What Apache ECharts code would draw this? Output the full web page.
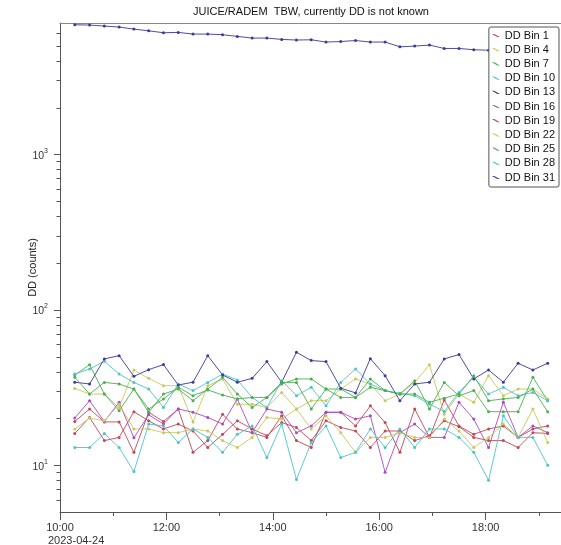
<!DOCTYPE html>
<html>
<head>
<meta charset="utf-8">
<script src="https://cdn.jsdelivr.net/npm/echarts@6/dist/echarts.min.js"></script>
<style>
html,body{margin:0;padding:0;background:#fff;}
#chart{width:561px;height:545px;}
</style>
</head>
<body>
<div id="chart"></div>
<script>
// ---- data ----
const times = ['10:16:40','10:33:20','10:50:00','11:06:40','11:23:20','11:40:00','11:56:40','12:13:20','12:30:00','12:46:40',
  '13:03:20','13:20:00','13:36:40','13:53:20','14:10:00','14:26:40','14:43:20','15:00:00','15:16:40','15:33:20',
  '15:50:00','16:06:40','16:23:20','16:40:00','16:56:40','17:13:20','17:30:00','17:46:40','18:03:20','18:20:00',
  '18:36:40','18:53:20','19:10:00'];
const bin1  = [19.1,23.0,19.0,19.0,12.1,21.9,19.1,23.0,12.1,14.4,21.3,17.1,16.2,15.1,20.8,14.4,13.0,21.9,21.9,17.9,24.1,18.8,12.1,23.0,15.1,26.3,17.9,15.8,17.1,17.9,15.1,17.1,17.9];
const bin4  = [31.2,28.7,28.7,23.5,41.0,36.2,32.5,32.5,19.0,32.5,35.9,24.7,24.7,23.5,29.4,23.0,26.0,26.0,30.9,35.9,33.3,26.0,28.7,34.1,44.3,21.3,28.7,25.4,37.7,28.0,30.9,30.9,26.7];
const bin7  = [38.0,44.3,28.7,22.4,30.9,21.9,28.7,30.9,26.0,30.9,36.8,28.7,23.5,27.3,33.3,35.9,35.9,30.9,30.9,27.3,35.9,30.2,28.7,35.0,23.0,34.1,28.0,30.2,22.1,22.1,22.1,36.8,26.0];
const bin10 = [38.6,41.6,46.6,38.6,34.1,30.9,23.5,33.3,30.2,34.1,38.6,35.4,27.3,23.5,35.0,28.0,31.7,24.1,34.1,41.6,33.3,30.2,29.0,28.0,24.7,22.2,29.4,36.8,28.7,31.7,28.0,29.4,26.0];
const bin13 = [34.2,33.3,48.3,50.7,37.3,41.2,44.4,32.8,34.2,50.7,38.1,34.2,36.2,46.4,34.2,53.3,47.1,46.4,31.3,29.2,48.5,37.7,26.0,33.3,34.2,48.3,51.5,35.9,41.0,34.2,45.3,41.0,45.3];
const bin16 = [20.1,26.0,19.1,25.4,15.0,21.1,18.4,23.0,21.9,20.3,18.4,26.7,16.2,23.0,21.9,16.2,17.9,21.9,21.9,19.8,20.8,9.0,16.2,18.4,15.1,15.1,25.4,19.8,13.0,25.4,15.1,17.9,16.2];
const bin19 = [16.0,20.3,14.4,15.1,22.1,19.3,17.1,18.4,16.6,13.0,15.8,19.3,17.1,15.5,18.8,17.5,14.4,19.3,17.5,16.6,13.0,16.6,16.6,14.4,15.5,19.3,17.7,15.1,14.4,14.4,13.0,16.2,16.0];
const bin22 = [17.1,20.1,19.3,24.7,17.1,17.1,16.2,16.2,17.1,16.6,14.4,13.0,15.1,20.3,19.8,23.0,17.1,20.8,16.2,12.1,15.1,15.1,16.2,15.1,15.1,19.8,16.6,13.0,15.1,18.4,15.1,23.0,14.0];
const bin25 = [36.8,28.7,34.1,33.3,30.9,23.0,26.7,31.7,28.0,30.5,28.3,26.7,27.3,27.3,34.1,34.1,23.0,30.9,27.3,27.3,31.7,30.2,28.7,28.7,25.4,27.0,28.7,37.7,26.0,26.7,27.3,30.9,22.1];
const bin28 = [13.0,13.0,16.0,13.0,9.1,18.4,17.9,14.0,17.1,15.1,12.1,15.8,17.9,11.2,18.4,8.1,14.0,17.9,11.2,12.1,17.1,13.0,17.1,13.0,17.1,17.1,15.1,12.1,8.0,20.8,15.1,15.1,10.0];
const bin31 = [6820,6790,6690,6590,6395,6235,6060,6090,5940,5940,5885,5740,5600,5600,5490,5440,5460,5280,5320,5400,5280,5280,4920,4970,5050,4800,4800,4710,4675,4605,4436,4243,3881];

const seriesNames = ['DD Bin 1','DD Bin 4','DD Bin 7','DD Bin 10','DD Bin 13','DD Bin 16','DD Bin 19','DD Bin 22','DD Bin 25','DD Bin 28','DD Bin 31'];
const seriesValues = [bin1,bin4,bin7,bin10,bin13,bin16,bin19,bin22,bin25,bin28,bin31];
const colors = ['#c04858','#c8c860','#4caf50','#4cc4c8','#3a3a98','#a84cc0','#c04858','#c8c860','#4caf50','#4cc4c8','#3a3a98'];
const minorTickValues = [6,7,8,9,20,30,40,50,60,70,80,90,200,300,400,500,600,700,800,900,2000,3000,4000,5000,6000];
const titleText = 'JUICE/RADEM  TBW, currently DD is not known';
const dateText = '2023-04-24';
const yName = 'DD (counts)';
const startHour = 10;

function toSec(t){const p=t.split(':').map(Number);return (p[0]-startHour)*3600+p[1]*60+p[2];}
const xs = times.map(toSec);

const chart = echarts.init(document.getElementById('chart'), null, {renderer:'canvas'});
const FONT = 'Liberation Sans, Arial, sans-serif';

const series = seriesValues.map((vals,k)=>({
  name: seriesNames[k], type:'line', xAxisIndex:0, yAxisIndex:0,
  data: vals.map((v,i)=>[xs[i], v]),
  symbol:'circle', symbolSize:3, showSymbol:true,
  lineStyle:{width:1, color:colors[k], opacity:0.9},
  itemStyle:{color:colors[k]},
  emphasis:{disabled:true}
}));
series.push({
  type:'custom', xAxisIndex:0, yAxisIndex:0, silent:true, clip:false, z:10,
  data: minorTickValues.map(v=>[0,v]),
  renderItem:function(params, api){
    const p = api.coord([0, api.value(1)]);
    const y = Math.round(p[1]) + 0.5;
    return {type:'line', shape:{x1:p[0]-3.5, y1:y, x2:p[0], y2:y}, style:{stroke:'#555', lineWidth:1}};
  }
});

chart.setOption({
  animation:false,
  backgroundColor:'#fff',
  title:{text:titleText, left:311, textAlign:'center', top:6, padding:0,
    textStyle:{fontFamily:FONT, fontSize:11, fontWeight:'normal', color:'#111'}},
  legend:{
    data:seriesNames, orient:'vertical', right:2, top:27,
    padding:[2,4,3,3], itemGap:1.2, itemWidth:8, itemHeight:4,
    icon:'path://M0,0L3,0L10,4L7,4Z',
    backgroundColor:'#fff', borderColor:'#555', borderWidth:1, borderRadius:2,
    textStyle:{fontFamily:FONT, fontSize:11, color:'#111', lineHeight:13},
    selectedMode:false
  },
  grid:{left:60, right:-31, top:23, bottom:33, containLabel:false, outerBoundsMode:'none'},
  xAxis:[{
    type:'value', min:0, max:36000, interval:7200,
    axisLine:{show:true, onZero:false, lineStyle:{color:'#555'}},
    axisTick:{show:true, length:8, lineStyle:{color:'#555'}},
    minorTick:{show:true, splitNumber:2, length:4, lineStyle:{color:'#555'}},
    splitLine:{show:false}, minorSplitLine:{show:false},
    axisLabel:{margin:10, fontFamily:FONT, fontSize:11, color:'#333', hideOverlap:false,
      formatter:function(v){const h=startHour+Math.round(v/3600);return (h<10?'0':'')+h+':00';}}
  },{
    type:'value', position:'top', min:0, max:36000,
    axisLine:{show:true, onZero:false, lineStyle:{color:'#888'}},
    axisTick:{show:false}, axisLabel:{show:false}, splitLine:{show:false}
  }],
  yAxis:{
    type:'log', logBase:10, min:5, max:7000,
    axisLine:{show:true, lineStyle:{color:'#555'}},
    axisTick:{show:true, length:6, lineStyle:{color:'#555'}},
    splitLine:{show:false},
    axisLabel:{margin:12, showMinLabel:false, showMaxLabel:false,
      formatter:function(v){const l=Math.log10(v);const e=Math.round(l);if(Math.abs(l-e)>1e-6)return '';return '{b|10}{s|'+e+'}';},
      rich:{
        b:{fontFamily:FONT, fontSize:10.5, color:'#333', lineHeight:14, verticalAlign:'bottom'},
        s:{fontFamily:FONT, fontSize:7, color:'#333', lineHeight:14, verticalAlign:'top'}
      }},
    name:yName, nameLocation:'middle', nameGap:22, nameMoveOverlap:false,
    nameTextStyle:{fontFamily:FONT, fontSize:11, color:'#222'}
  },
  graphic:[{type:'text', left:48, top:535, style:{text:dateText, font:'11px '+FONT, fill:'#333'}}],
  series:series
});
</script>
</body>
</html>
